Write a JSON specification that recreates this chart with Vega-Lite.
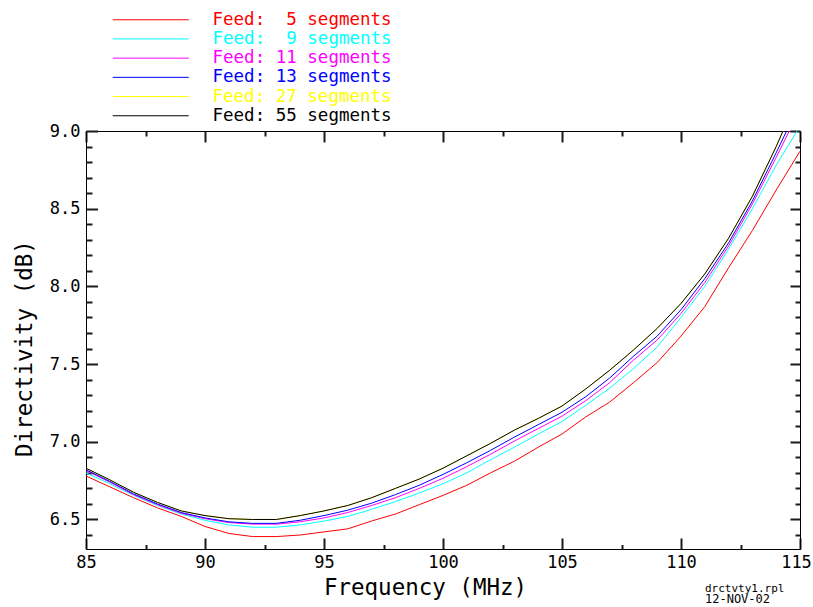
{
  "$schema": "https://vega.github.io/schema/vega-lite/v6.json",
  "width": 714,
  "height": 418,
  "autosize": "none",
  "padding": {"left": 86, "top": 131, "right": 13, "bottom": 58},
  "background": "white",
  "config": {
    "view": {"stroke": null},
    "font": "DejaVu Sans Mono",
    "axis": {"grid": false, "domainColor": "#000000", "domainWidth": 1, "labelColor": "#000000", "ticks": true, "tickColor": "#1a1a1a", "tickWidth": 2}
  },
  "resolve": {"axis": {"x": "independent", "y": "independent"}},
  "title": {
    "text": "drctvty1.rpl",
    "subtitle": "12-NOV-02",
    "orient": "bottom",
    "anchor": "end",
    "frame": "group",
    "align": "left",
    "dx": -95,
    "dy": -16,
    "offset": 0,
    "font": "DejaVu Sans Mono",
    "fontSize": 11,
    "fontWeight": "normal",
    "color": "#000000",
    "subtitleFont": "DejaVu Sans Mono",
    "subtitleFontSize": 12,
    "subtitleColor": "#000000",
    "subtitlePadding": 0
  },
  "data": {
    "values": [
      {"f":85,"d":6.78,"s":"Feed:\u00a0\u00a05 segments"},{"f":86,"d":6.71,"s":"Feed:\u00a0\u00a05 segments"},{"f":87,"d":6.64,"s":"Feed:\u00a0\u00a05 segments"},{"f":88,"d":6.575,"s":"Feed:\u00a0\u00a05 segments"},{"f":89,"d":6.52,"s":"Feed:\u00a0\u00a05 segments"},{"f":90,"d":6.455,"s":"Feed:\u00a0\u00a05 segments"},{"f":91,"d":6.41,"s":"Feed:\u00a0\u00a05 segments"},{"f":92,"d":6.39,"s":"Feed:\u00a0\u00a05 segments"},{"f":93,"d":6.39,"s":"Feed:\u00a0\u00a05 segments"},{"f":94,"d":6.4,"s":"Feed:\u00a0\u00a05 segments"},{"f":95,"d":6.42,"s":"Feed:\u00a0\u00a05 segments"},{"f":96,"d":6.44,"s":"Feed:\u00a0\u00a05 segments"},{"f":97,"d":6.49,"s":"Feed:\u00a0\u00a05 segments"},{"f":98,"d":6.535,"s":"Feed:\u00a0\u00a05 segments"},{"f":99,"d":6.595,"s":"Feed:\u00a0\u00a05 segments"},{"f":100,"d":6.655,"s":"Feed:\u00a0\u00a05 segments"},{"f":101,"d":6.72,"s":"Feed:\u00a0\u00a05 segments"},{"f":102,"d":6.8,"s":"Feed:\u00a0\u00a05 segments"},{"f":103,"d":6.875,"s":"Feed:\u00a0\u00a05 segments"},{"f":104,"d":6.965,"s":"Feed:\u00a0\u00a05 segments"},{"f":105,"d":7.05,"s":"Feed:\u00a0\u00a05 segments"},{"f":106,"d":7.16,"s":"Feed:\u00a0\u00a05 segments"},{"f":107,"d":7.255,"s":"Feed:\u00a0\u00a05 segments"},{"f":108,"d":7.38,"s":"Feed:\u00a0\u00a05 segments"},{"f":109,"d":7.51,"s":"Feed:\u00a0\u00a05 segments"},{"f":110,"d":7.68,"s":"Feed:\u00a0\u00a05 segments"},{"f":111,"d":7.87,"s":"Feed:\u00a0\u00a05 segments"},{"f":112,"d":8.12,"s":"Feed:\u00a0\u00a05 segments"},{"f":113,"d":8.36,"s":"Feed:\u00a0\u00a05 segments"},{"f":114,"d":8.62,"s":"Feed:\u00a0\u00a05 segments"},{"f":115,"d":8.87,"s":"Feed:\u00a0\u00a05 segments"},

      {"f":85,"d":6.8,"s":"Feed:\u00a0\u00a09 segments"},{"f":86,"d":6.73,"s":"Feed:\u00a0\u00a09 segments"},{"f":87,"d":6.655,"s":"Feed:\u00a0\u00a09 segments"},{"f":88,"d":6.59,"s":"Feed:\u00a0\u00a09 segments"},{"f":89,"d":6.535,"s":"Feed:\u00a0\u00a09 segments"},{"f":90,"d":6.495,"s":"Feed:\u00a0\u00a09 segments"},{"f":91,"d":6.465,"s":"Feed:\u00a0\u00a09 segments"},{"f":92,"d":6.45,"s":"Feed:\u00a0\u00a09 segments"},{"f":93,"d":6.45,"s":"Feed:\u00a0\u00a09 segments"},{"f":94,"d":6.465,"s":"Feed:\u00a0\u00a09 segments"},{"f":95,"d":6.49,"s":"Feed:\u00a0\u00a09 segments"},{"f":96,"d":6.52,"s":"Feed:\u00a0\u00a09 segments"},{"f":97,"d":6.565,"s":"Feed:\u00a0\u00a09 segments"},{"f":98,"d":6.615,"s":"Feed:\u00a0\u00a09 segments"},{"f":99,"d":6.67,"s":"Feed:\u00a0\u00a09 segments"},{"f":100,"d":6.73,"s":"Feed:\u00a0\u00a09 segments"},{"f":101,"d":6.8,"s":"Feed:\u00a0\u00a09 segments"},{"f":102,"d":6.885,"s":"Feed:\u00a0\u00a09 segments"},{"f":103,"d":6.965,"s":"Feed:\u00a0\u00a09 segments"},{"f":104,"d":7.05,"s":"Feed:\u00a0\u00a09 segments"},{"f":105,"d":7.13,"s":"Feed:\u00a0\u00a09 segments"},{"f":106,"d":7.235,"s":"Feed:\u00a0\u00a09 segments"},{"f":107,"d":7.345,"s":"Feed:\u00a0\u00a09 segments"},{"f":108,"d":7.47,"s":"Feed:\u00a0\u00a09 segments"},{"f":109,"d":7.61,"s":"Feed:\u00a0\u00a09 segments"},{"f":110,"d":7.8,"s":"Feed:\u00a0\u00a09 segments"},{"f":111,"d":8.0,"s":"Feed:\u00a0\u00a09 segments"},{"f":112,"d":8.24,"s":"Feed:\u00a0\u00a09 segments"},{"f":113,"d":8.5,"s":"Feed:\u00a0\u00a09 segments"},{"f":114,"d":8.78,"s":"Feed:\u00a0\u00a09 segments"},{"f":115,"d":9.03,"s":"Feed:\u00a0\u00a09 segments"},

      {"f":85,"d":6.815,"s":"Feed: 11 segments"},{"f":86,"d":6.74,"s":"Feed: 11 segments"},{"f":87,"d":6.66,"s":"Feed: 11 segments"},{"f":88,"d":6.595,"s":"Feed: 11 segments"},{"f":89,"d":6.54,"s":"Feed: 11 segments"},{"f":90,"d":6.505,"s":"Feed: 11 segments"},{"f":91,"d":6.48,"s":"Feed: 11 segments"},{"f":92,"d":6.47,"s":"Feed: 11 segments"},{"f":93,"d":6.47,"s":"Feed: 11 segments"},{"f":94,"d":6.485,"s":"Feed: 11 segments"},{"f":95,"d":6.51,"s":"Feed: 11 segments"},{"f":96,"d":6.545,"s":"Feed: 11 segments"},{"f":97,"d":6.59,"s":"Feed: 11 segments"},{"f":98,"d":6.64,"s":"Feed: 11 segments"},{"f":99,"d":6.7,"s":"Feed: 11 segments"},{"f":100,"d":6.765,"s":"Feed: 11 segments"},{"f":101,"d":6.84,"s":"Feed: 11 segments"},{"f":102,"d":6.92,"s":"Feed: 11 segments"},{"f":103,"d":7.005,"s":"Feed: 11 segments"},{"f":104,"d":7.085,"s":"Feed: 11 segments"},{"f":105,"d":7.165,"s":"Feed: 11 segments"},{"f":106,"d":7.265,"s":"Feed: 11 segments"},{"f":107,"d":7.38,"s":"Feed: 11 segments"},{"f":108,"d":7.525,"s":"Feed: 11 segments"},{"f":109,"d":7.655,"s":"Feed: 11 segments"},{"f":110,"d":7.825,"s":"Feed: 11 segments"},{"f":111,"d":8.025,"s":"Feed: 11 segments"},{"f":112,"d":8.26,"s":"Feed: 11 segments"},{"f":113,"d":8.53,"s":"Feed: 11 segments"},{"f":114,"d":8.83,"s":"Feed: 11 segments"},{"f":115,"d":9.14,"s":"Feed: 11 segments"},

      {"f":85,"d":6.82,"s":"Feed: 13 segments"},{"f":86,"d":6.745,"s":"Feed: 13 segments"},{"f":87,"d":6.665,"s":"Feed: 13 segments"},{"f":88,"d":6.6,"s":"Feed: 13 segments"},{"f":89,"d":6.545,"s":"Feed: 13 segments"},{"f":90,"d":6.51,"s":"Feed: 13 segments"},{"f":91,"d":6.485,"s":"Feed: 13 segments"},{"f":92,"d":6.475,"s":"Feed: 13 segments"},{"f":93,"d":6.475,"s":"Feed: 13 segments"},{"f":94,"d":6.495,"s":"Feed: 13 segments"},{"f":95,"d":6.525,"s":"Feed: 13 segments"},{"f":96,"d":6.56,"s":"Feed: 13 segments"},{"f":97,"d":6.605,"s":"Feed: 13 segments"},{"f":98,"d":6.66,"s":"Feed: 13 segments"},{"f":99,"d":6.72,"s":"Feed: 13 segments"},{"f":100,"d":6.79,"s":"Feed: 13 segments"},{"f":101,"d":6.865,"s":"Feed: 13 segments"},{"f":102,"d":6.945,"s":"Feed: 13 segments"},{"f":103,"d":7.03,"s":"Feed: 13 segments"},{"f":104,"d":7.11,"s":"Feed: 13 segments"},{"f":105,"d":7.19,"s":"Feed: 13 segments"},{"f":106,"d":7.29,"s":"Feed: 13 segments"},{"f":107,"d":7.41,"s":"Feed: 13 segments"},{"f":108,"d":7.55,"s":"Feed: 13 segments"},{"f":109,"d":7.68,"s":"Feed: 13 segments"},{"f":110,"d":7.85,"s":"Feed: 13 segments"},{"f":111,"d":8.05,"s":"Feed: 13 segments"},{"f":112,"d":8.28,"s":"Feed: 13 segments"},{"f":113,"d":8.55,"s":"Feed: 13 segments"},{"f":114,"d":8.86,"s":"Feed: 13 segments"},{"f":115,"d":9.18,"s":"Feed: 13 segments"},

      {"f":85,"d":6.83,"s":"Feed: 27 segments"},{"f":86,"d":6.755,"s":"Feed: 27 segments"},{"f":87,"d":6.675,"s":"Feed: 27 segments"},{"f":88,"d":6.61,"s":"Feed: 27 segments"},{"f":89,"d":6.555,"s":"Feed: 27 segments"},{"f":90,"d":6.525,"s":"Feed: 27 segments"},{"f":91,"d":6.505,"s":"Feed: 27 segments"},{"f":92,"d":6.5,"s":"Feed: 27 segments"},{"f":93,"d":6.5,"s":"Feed: 27 segments"},{"f":94,"d":6.525,"s":"Feed: 27 segments"},{"f":95,"d":6.555,"s":"Feed: 27 segments"},{"f":96,"d":6.59,"s":"Feed: 27 segments"},{"f":97,"d":6.64,"s":"Feed: 27 segments"},{"f":98,"d":6.7,"s":"Feed: 27 segments"},{"f":99,"d":6.76,"s":"Feed: 27 segments"},{"f":100,"d":6.83,"s":"Feed: 27 segments"},{"f":101,"d":6.91,"s":"Feed: 27 segments"},{"f":102,"d":6.99,"s":"Feed: 27 segments"},{"f":103,"d":7.075,"s":"Feed: 27 segments"},{"f":104,"d":7.15,"s":"Feed: 27 segments"},{"f":105,"d":7.23,"s":"Feed: 27 segments"},{"f":106,"d":7.34,"s":"Feed: 27 segments"},{"f":107,"d":7.46,"s":"Feed: 27 segments"},{"f":108,"d":7.59,"s":"Feed: 27 segments"},{"f":109,"d":7.73,"s":"Feed: 27 segments"},{"f":110,"d":7.89,"s":"Feed: 27 segments"},{"f":111,"d":8.08,"s":"Feed: 27 segments"},{"f":112,"d":8.31,"s":"Feed: 27 segments"},{"f":113,"d":8.58,"s":"Feed: 27 segments"},{"f":114,"d":8.9,"s":"Feed: 27 segments"},{"f":115,"d":9.25,"s":"Feed: 27 segments"},

      {"f":85,"d":6.83,"s":"Feed: 55 segments"},{"f":86,"d":6.755,"s":"Feed: 55 segments"},{"f":87,"d":6.675,"s":"Feed: 55 segments"},{"f":88,"d":6.61,"s":"Feed: 55 segments"},{"f":89,"d":6.555,"s":"Feed: 55 segments"},{"f":90,"d":6.525,"s":"Feed: 55 segments"},{"f":91,"d":6.505,"s":"Feed: 55 segments"},{"f":92,"d":6.5,"s":"Feed: 55 segments"},{"f":93,"d":6.5,"s":"Feed: 55 segments"},{"f":94,"d":6.525,"s":"Feed: 55 segments"},{"f":95,"d":6.555,"s":"Feed: 55 segments"},{"f":96,"d":6.59,"s":"Feed: 55 segments"},{"f":97,"d":6.64,"s":"Feed: 55 segments"},{"f":98,"d":6.7,"s":"Feed: 55 segments"},{"f":99,"d":6.76,"s":"Feed: 55 segments"},{"f":100,"d":6.83,"s":"Feed: 55 segments"},{"f":101,"d":6.91,"s":"Feed: 55 segments"},{"f":102,"d":6.99,"s":"Feed: 55 segments"},{"f":103,"d":7.075,"s":"Feed: 55 segments"},{"f":104,"d":7.15,"s":"Feed: 55 segments"},{"f":105,"d":7.23,"s":"Feed: 55 segments"},{"f":106,"d":7.34,"s":"Feed: 55 segments"},{"f":107,"d":7.46,"s":"Feed: 55 segments"},{"f":108,"d":7.59,"s":"Feed: 55 segments"},{"f":109,"d":7.73,"s":"Feed: 55 segments"},{"f":110,"d":7.89,"s":"Feed: 55 segments"},{"f":111,"d":8.08,"s":"Feed: 55 segments"},{"f":112,"d":8.31,"s":"Feed: 55 segments"},{"f":113,"d":8.58,"s":"Feed: 55 segments"},{"f":114,"d":8.9,"s":"Feed: 55 segments"},{"f":115,"d":9.25,"s":"Feed: 55 segments"}
    ]
  },
  "layer": [
    {
      "mark": {"type": "line", "strokeWidth": 1, "clip": true},
      "encoding": {
        "x": {
          "field": "f", "type": "quantitative",
          "scale": {"domain": [85, 115], "nice": false, "zero": false},
          "axis": {
            "orient": "bottom",
            "values": [85, 90, 95, 100, 105, 110, 115],
            "format": "d",
            "tickSize": -11,
            "labelOverlap": false, "labelFlush": false, "labelBound": false,
            "labelFont": "DejaVu Sans Mono", "labelFontSize": 17,
            "labelBaseline": "middle", "labelPadding": 24,
            "labelOffset": {"condition": {"test": "datum.value == 115", "value": -4}, "value": 0},
            "title": "Frequency (MHz)",
            "titleFont": "DejaVu Sans Mono", "titleFontSize": 22.5, "titleFontWeight": "normal", "titleColor": "#000000",
            "titleX": 339, "titleY": 38, "titleAlign": "center", "titleBaseline": "middle"
          }
        },
        "y": {
          "field": "d", "type": "quantitative",
          "scale": {"domain": [6.31, 9.0], "nice": false, "zero": false},
          "axis": {
            "orient": "left",
            "values": [6.5, 7.0, 7.5, 8.0, 8.5, 9.0],
            "format": ".1f",
            "tickSize": -11.5,
            "labelOverlap": false, "labelFlush": false, "labelBound": false,
            "labelFont": "DejaVu Sans Mono", "labelFontSize": 17,
            "labelBaseline": "middle", "labelAlign": "right", "labelPadding": 17.5,
            "title": "Directivity (dB)",
            "titleFont": "DejaVu Sans Mono", "titleFontSize": 22.5, "titleFontWeight": "normal", "titleColor": "#000000",
            "titleX": -62, "titleY": 217, "titleAlign": "center", "titleBaseline": "middle", "titleAngle": -90
          }
        },
        "color": {
          "field": "s", "type": "nominal",
          "scale": {
            "domain": ["Feed:\u00a0\u00a05 segments", "Feed:\u00a0\u00a09 segments", "Feed: 11 segments", "Feed: 13 segments", "Feed: 27 segments", "Feed: 55 segments"],
            "range": ["#ff0000", "#00ffff", "#ff00ff", "#0000ff", "#ffff00", "#000000"]
          },
          "legend": {
            "orient": "none",
            "legendX": 26,
            "legendY": -120,
            "title": null,
            "symbolType": "M-4.75,0H4.75",
            "symbolSize": 256,
            "symbolStrokeWidth": 1,
            "symbolOffset": 30,
            "labelOffset": 53,
            "labelFont": "DejaVu Sans Mono",
            "labelFontSize": 17.5,
            "labelLimit": 0,
            "rowPadding": 0.2,
            "padding": 0,
            "encode": {
              "symbols": {"update": {"stroke": {"scale": "color", "field": "value"}, "strokeWidth": {"value": 1}, "fill": {"value": "transparent"}}},
              "labels": {"update": {"fill": {"scale": "color", "field": "value"}}}
            }
          }
        }
      }
    },
    {
      "mark": {"type": "line", "strokeOpacity": 0},
      "encoding": {
        "detail": {"field": "s", "type": "nominal"},
        "x": {
          "field": "f", "type": "quantitative",
          "scale": {"domain": [85, 115], "nice": false, "zero": false},
          "axis": {"orient": "top", "values": [85, 90, 95, 100, 105, 110, 115], "labels": false, "tickSize": -11, "title": null}
        },
        "y": {
          "field": "d", "type": "quantitative",
          "scale": {"domain": [6.31, 9.0], "nice": false, "zero": false},
          "axis": {"orient": "right", "values": [6.5, 7.0, 7.5, 8.0, 8.5, 9.0], "labels": false, "tickSize": -10, "title": null}
        }
      }
    },
    {
      "mark": {"type": "line", "strokeOpacity": 0},
      "encoding": {
        "detail": {"field": "s", "type": "nominal"},
        "x": {
          "field": "f", "type": "quantitative",
          "scale": {"domain": [85, 115], "nice": false, "zero": false},
          "axis": {"orient": "bottom", "values": [87.5, 92.5, 97.5, 102.5, 107.5, 112.5], "labels": false, "domain": false, "tickSize": -4.5, "title": null}
        },
        "y": {
          "field": "d", "type": "quantitative",
          "scale": {"domain": [6.31, 9.0], "nice": false, "zero": false},
          "axis": {"orient": "left", "values": [6.4, 6.6, 6.7, 6.8, 6.9, 7.1, 7.2, 7.3, 7.4, 7.6, 7.7, 7.8, 7.9, 8.1, 8.2, 8.3, 8.4, 8.6, 8.7, 8.8, 8.9], "labels": false, "domain": false, "tickSize": -6, "title": null}
        }
      }
    },
    {
      "mark": {"type": "line", "strokeOpacity": 0},
      "encoding": {
        "detail": {"field": "s", "type": "nominal"},
        "x": {
          "field": "f", "type": "quantitative",
          "scale": {"domain": [85, 115], "nice": false, "zero": false},
          "axis": {"orient": "top", "values": [87.5, 92.5, 97.5, 102.5, 107.5, 112.5], "labels": false, "domain": false, "tickSize": -5, "title": null}
        },
        "y": {
          "field": "d", "type": "quantitative",
          "scale": {"domain": [6.31, 9.0], "nice": false, "zero": false},
          "axis": {"orient": "right", "values": [6.4, 6.6, 6.7, 6.8, 6.9, 7.1, 7.2, 7.3, 7.4, 7.6, 7.7, 7.8, 7.9, 8.1, 8.2, 8.3, 8.4, 8.6, 8.7, 8.8, 8.9], "labels": false, "domain": false, "tickSize": -5, "title": null}
        }
      }
    }
  ]
}
